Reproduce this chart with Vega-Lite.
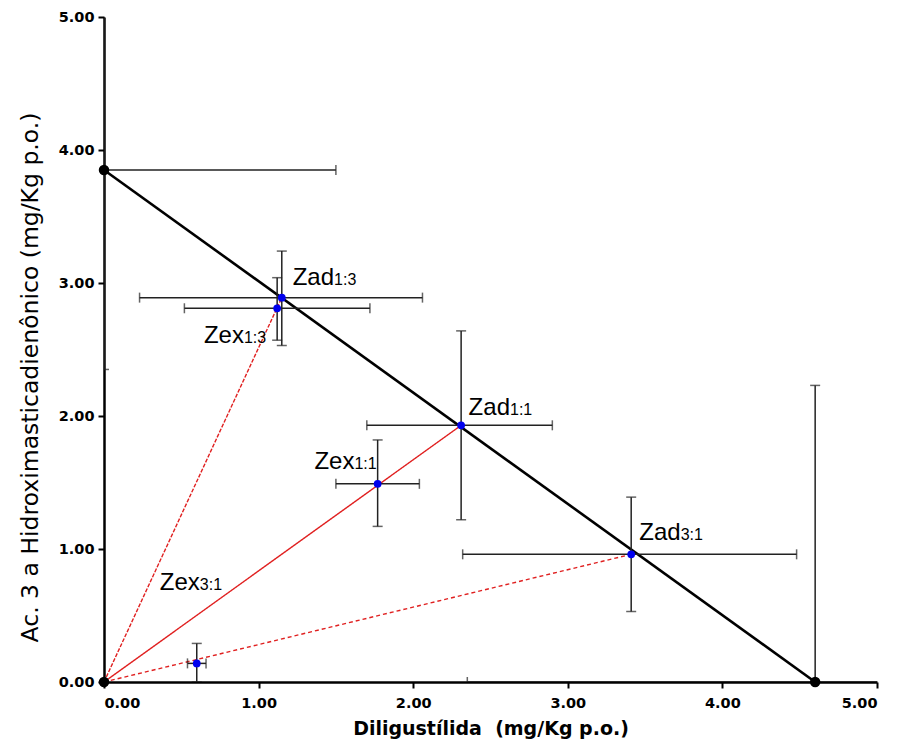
{
  "$schema": "https://vega.github.io/schema/vega-lite/v6.json",
  "autosize": "none",
  "width": 773,
  "height": 665,
  "padding": {"left": 104, "top": 17, "right": 21, "bottom": 67},
  "background": "white",
  "config": {
    "view": {"stroke": null},
    "font": "Liberation Sans",
    "axis": {
      "grid": false,
      "domainColor": "black",
      "domainWidth": 2.5,
      "tickColor": "black",
      "tickWidth": 2,
      "tickSize": 6,
      "labelFont": "DejaVu Sans",
      "labelFontWeight": "bold",
      "labelFontSize": 14.5,
      "labelColor": "black",
      "titleColor": "black"
    }
  },
  "datasets": {
    "pts": [
      {"name": "A", "kind": "ED50", "x": 0, "y": 3.85},
      {"name": "D", "kind": "ED50", "x": 4.6, "y": 0},
      {"name": "O", "kind": "ED50", "x": 0, "y": 0},
      {"name": "Zad1:3", "kind": "Z", "x": 1.15, "y": 2.89},
      {"name": "Zex1:3", "kind": "Z", "x": 1.12, "y": 2.81},
      {"name": "Zad1:1", "kind": "Z", "x": 2.31, "y": 1.93},
      {"name": "Zex1:1", "kind": "Z", "x": 1.77, "y": 1.49},
      {"name": "Zad3:1", "kind": "Z", "x": 3.41, "y": 0.96},
      {"name": "Zex3:1", "kind": "Z", "x": 0.6, "y": 0.14}
    ],
    "err": [
      {"name": "A", "x": 0, "y": 3.85, "xlo": 0, "xhi": 1.5, "ylo": 2.35, "yhi": 5.35},
      {"name": "D", "x": 4.6, "y": 0, "xlo": 2.35, "xhi": 6.85, "ylo": 0, "yhi": 2.23},
      {"name": "Zad1:3", "x": 1.15, "y": 2.89, "xlo": 0.23, "xhi": 2.06, "ylo": 2.53, "yhi": 3.24},
      {"name": "Zex1:3", "x": 1.12, "y": 2.81, "xlo": 0.52, "xhi": 1.72, "ylo": 2.57, "yhi": 3.04},
      {"name": "Zad1:1", "x": 2.31, "y": 1.93, "xlo": 1.7, "xhi": 2.9, "ylo": 1.22, "yhi": 2.64},
      {"name": "Zex1:1", "x": 1.77, "y": 1.49, "xlo": 1.5, "xhi": 2.04, "ylo": 1.17, "yhi": 1.82},
      {"name": "Zad3:1", "x": 3.41, "y": 0.96, "xlo": 2.32, "xhi": 4.48, "ylo": 0.53, "yhi": 1.39},
      {"name": "Zex3:1", "x": 0.6, "y": 0.14, "xlo": 0.54, "xhi": 0.66, "ylo": 0, "yhi": 0.29}
    ],
    "rays": [
      {"ray": "1:3", "x": 0, "y": 0},
      {"ray": "1:3", "x": 1.15, "y": 2.89},
      {"ray": "1:1", "x": 0, "y": 0},
      {"ray": "1:1", "x": 2.31, "y": 1.93},
      {"ray": "3:1", "x": 0, "y": 0},
      {"ray": "3:1", "x": 3.41, "y": 0.96}
    ],
    "iso": [
      {"x": 0, "y": 3.85},
      {"x": 4.6, "y": 0}
    ],
    "labels": [
      {"main": "Zad", "sub": "1:3", "lx": 1.488, "ly": 2.985},
      {"main": "Zex", "sub": "1:3", "lx": 0.905, "ly": 2.55},
      {"main": "Zad", "sub": "1:1", "lx": 2.626, "ly": 2.01},
      {"main": "Zex", "sub": "1:1", "lx": 1.62, "ly": 1.6},
      {"main": "Zad", "sub": "3:1", "lx": 3.73, "ly": 1.07},
      {"main": "Zex", "sub": "3:1", "lx": 0.62, "ly": 0.69}
    ]
  },
  "layer": [
    {
      "data": {"name": "rays"},
      "mark": {"type": "line", "color": "#e02020", "strokeWidth": 1.4, "clip": true},
      "encoding": {
        "x": {"field": "x", "type": "quantitative", "scale": {"domain": [0, 5], "nice": false, "zero": false},
              "axis": {"values": [0, 1, 2, 3, 4, 5], "format": ".2f", "title": "Diligustílida\u00a0 (mg/Kg p.o.)", "titleFont": "DejaVu Sans", "titleFontWeight": "bold", "titleFontSize": 19, "titlePadding": 10, "labelPadding": 8}},
        "y": {"field": "y", "type": "quantitative", "scale": {"domain": [0, 5], "nice": false, "zero": false},
              "axis": {"values": [0, 1, 2, 3, 4, 5], "format": ".2f", "title": "Ac. 3 a Hidroximasticadienônico (mg/Kg p.o.)", "titleFont": "DejaVu Sans", "titleFontWeight": "normal", "titleFontSize": 23.5, "titlePadding": 16, "titleY": 360, "labelPadding": 4}},
        "detail": {"field": "ray"},
        "strokeDash": {"field": "ray", "type": "nominal", "scale": {"domain": ["1:3", "1:1", "3:1"], "range": [[4, 1.5], [1, 0], [4, 3]]}, "legend": null}
      }
    },
    {
      "data": {"name": "iso"},
      "mark": {"type": "line", "color": "black", "strokeWidth": 2.6},
      "encoding": {
        "x": {"field": "x", "type": "quantitative"},
        "y": {"field": "y", "type": "quantitative"}
      }
    },
    {
      "data": {"name": "err"},
      "mark": {"type": "rule", "color": "#222", "strokeWidth": 1.5, "clip": true},
      "encoding": {
        "x": {"field": "xlo", "type": "quantitative"},
        "x2": {"field": "xhi"},
        "y": {"field": "y", "type": "quantitative"}
      }
    },
    {
      "data": {"name": "err"},
      "mark": {"type": "rule", "color": "#222", "strokeWidth": 1.5, "clip": true},
      "encoding": {
        "x": {"field": "x", "type": "quantitative"},
        "y": {"field": "ylo", "type": "quantitative"},
        "y2": {"field": "yhi"}
      }
    },
    {
      "data": {"name": "err"},
      "mark": {"type": "tick", "orient": "vertical", "color": "#222", "size": 10, "thickness": 1.5, "clip": true},
      "encoding": {
        "x": {"field": "xlo", "type": "quantitative"},
        "y": {"field": "y", "type": "quantitative"}
      }
    },
    {
      "data": {"name": "err"},
      "mark": {"type": "tick", "orient": "vertical", "color": "#222", "size": 10, "thickness": 1.5, "clip": true},
      "encoding": {
        "x": {"field": "xhi", "type": "quantitative"},
        "y": {"field": "y", "type": "quantitative"}
      }
    },
    {
      "data": {"name": "err"},
      "mark": {"type": "tick", "orient": "horizontal", "color": "#222", "size": 10, "thickness": 1.5, "clip": true},
      "encoding": {
        "x": {"field": "x", "type": "quantitative"},
        "y": {"field": "ylo", "type": "quantitative"}
      }
    },
    {
      "data": {"name": "err"},
      "mark": {"type": "tick", "orient": "horizontal", "color": "#222", "size": 10, "thickness": 1.5, "clip": true},
      "encoding": {
        "x": {"field": "x", "type": "quantitative"},
        "y": {"field": "yhi", "type": "quantitative"}
      }
    },
    {
      "data": {"name": "pts"},
      "mark": {"type": "circle", "opacity": 1},
      "encoding": {
        "x": {"field": "x", "type": "quantitative"},
        "y": {"field": "y", "type": "quantitative"},
        "color": {"field": "kind", "type": "nominal", "scale": {"domain": ["ED50", "Z"], "range": ["black", "#0000ee"]}, "legend": null},
        "size": {"field": "kind", "type": "nominal", "scale": {"domain": ["ED50", "Z"], "range": [110, 60]}, "legend": null}
      }
    },
    {
      "data": {"name": "labels"},
      "mark": {"type": "text", "align": "right", "baseline": "alphabetic", "fontSize": 24, "font": "Liberation Sans", "color": "black"},
      "encoding": {
        "x": {"field": "lx", "type": "quantitative"},
        "y": {"field": "ly", "type": "quantitative"},
        "text": {"field": "main"}
      }
    },
    {
      "data": {"name": "labels"},
      "mark": {"type": "text", "align": "left", "baseline": "alphabetic", "fontSize": 16, "font": "Liberation Sans", "color": "black"},
      "encoding": {
        "x": {"field": "lx", "type": "quantitative"},
        "y": {"field": "ly", "type": "quantitative"},
        "text": {"field": "sub"}
      }
    }
  ]
}
